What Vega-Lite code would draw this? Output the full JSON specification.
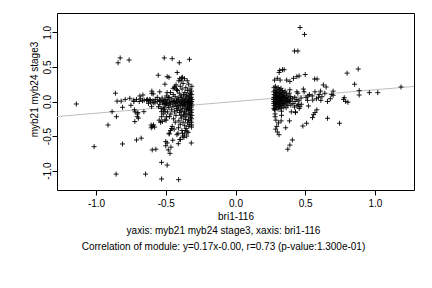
{
"$schema": "https://vega.github.io/schema/vega-lite/v6.json",
"width": 357, "height": 177,
"autosize": "none",
"padding": {"left": 57, "top": 13, "right": 18, "bottom": 98},
"background": "white",
"config": {"view": {"stroke": "black", "strokeWidth": 1}, "font": "Liberation Sans"},
"title": {"text": "yaxis: myb21 myb24 stage3, xaxis: bri1-116", "subtitle": "Correlation of module: y=0.17x-0.00, r=0.73 (p-value:1.300e-01)", "orient": "bottom", "anchor": "middle", "dx": -12, "offset": 5, "fontSize": 10, "fontWeight": "normal", "color": "black", "font": "Liberation Sans", "subtitleFont": "Liberation Sans", "subtitleFontSize": 10, "subtitleColor": "black", "subtitlePadding": 6},
"datasets": {
"fit": [{"x": -1.28, "y": -0.2176, "x2": 1.28, "y2": 0.2176}],
"pts": [
{"x":-1.141,"y":-0.036},{"x":-1.014,"y":-0.653},{"x":-0.914,"y":-0.34},{"x":-0.885,"y":-0.147},{"x":-0.861,"y":0.12},{"x":-0.854,"y":-0.22},{"x":-0.856,"y":-1.05},{"x":-0.842,"y":0.56},{"x":-0.827,"y":0.63},{"x":-0.849,"y":0.005},{"x":-0.82,"y":0.005},{"x":-0.81,"y":-0.084},{"x":-0.81,"y":-0.614},{"x":-0.791,"y":0.03},{"x":-0.763,"y":0.6},{"x":-0.758,"y":0.046},{"x":-0.75,"y":-0.055},{"x":-0.729,"y":0.0},{"x":-0.722,"y":-0.29},{"x":-0.71,"y":-0.556},{"x":-0.703,"y":-0.18},{"x":-0.696,"y":-0.24},{"x":-0.686,"y":0.08},{"x":-0.676,"y":-0.53},{"x":-0.667,"y":0.01},{"x":-0.664,"y":0.094},{"x":-0.657,"y":-0.147},{"x":-0.645,"y":-1.05},{"x":-0.638,"y":0.02},{"x":-0.626,"y":0.01},{"x":-0.614,"y":0.03},{"x":-0.624,"y":-0.027},{"x":-0.602,"y":-0.075},{"x":-0.6,"y":0.118},{"x":-0.59,"y":-0.02},{"x":-0.605,"y":-0.34},{"x":-0.597,"y":-0.36},{"x":-0.588,"y":-0.34},{"x":-0.604,"y":-0.38},{"x":-0.58,"y":-0.37},{"x":-0.597,"y":-0.7},{"x":-0.571,"y":-0.69},{"x":-0.561,"y":0.06},{"x":-0.561,"y":0.0},{"x":-0.552,"y":-0.075},{"x":-0.543,"y":0.02},{"x":-0.554,"y":0.38},{"x":-0.543,"y":0.14},{"x":-0.53,"y":-0.88},{"x":-0.53,"y":-0.147},{"x":-0.518,"y":-0.12},{"x":-0.506,"y":-0.036},{"x":-0.506,"y":0.25},{"x":-0.49,"y":0.36},{"x":-0.511,"y":0.63},{"x":-0.49,"y":0.128},{"x":-0.482,"y":0.06},{"x":-0.525,"y":-0.29},{"x":-0.506,"y":-0.267},{"x":-0.494,"y":-0.22},{"x":-0.53,"y":-1.12},{"x":-0.477,"y":0.35},{"x":-0.47,"y":-0.75},{"x":-0.482,"y":-0.7},{"x":-0.49,"y":-0.6},{"x":-0.5,"y":-0.64},{"x":-0.49,"y":-0.92},{"x":-0.475,"y":-0.47},{"x":-0.466,"y":-0.42},{"x":-0.459,"y":-0.39},{"x":-0.454,"y":0.62},{"x":-0.447,"y":0.19},{"x":-0.435,"y":0.22},{"x":-0.423,"y":0.17},{"x":-0.408,"y":-1.13},{"x":-0.403,"y":0.56},{"x":-0.418,"y":0.42},{"x":-0.4,"y":0.33},{"x":-0.39,"y":0.3},{"x":-0.38,"y":0.35},{"x":-0.33,"y":0.61},{"x":-0.317,"y":-0.6},{"x":-0.42,"y":-0.48},{"x":-0.41,"y":-0.61},{"x":-0.395,"y":-0.55},{"x":-0.38,"y":-0.46},{"x":-0.37,"y":-0.52},{"x":-0.36,"y":-0.42},{"x":-0.35,"y":-0.5},{"x":-0.34,"y":-0.45},{"x":-0.6,"y":0.15},{"x":-0.59,"y":0.11},{"x":-0.73,"y":0.02},{"x":-0.71,"y":0.03},{"x":-0.69,"y":0.0},{"x":-0.68,"y":0.04},{"x":-0.655,"y":0.02},{"x":-0.72,"y":-0.15},{"x":-0.7,"y":-0.16},{"x":-0.705,"y":-0.22},{"x":-0.725,"y":-0.12},{"x":-0.505,"y":0.02},{"x":-0.494,"y":-0.03},{"x":-0.505,"y":-0.15},{"x":-0.53,"y":-0.22},{"x":-0.547,"y":-0.27},{"x":-0.538,"y":-0.3},{"x":-0.476,"y":-0.46},{"x":-0.5,"y":-0.58},{"x":-0.463,"y":-0.66},{"x":-0.45,"y":-0.56},{"x":-0.44,"y":-0.4},
{"x":-0.313,"y":0.22},{"x":-0.316,"y":0.15},{"x":-0.314,"y":0.1},{"x":-0.317,"y":0.06},{"x":-0.312,"y":0.03},{"x":-0.315,"y":0.0},{"x":-0.318,"y":-0.02},{"x":-0.313,"y":-0.05},{"x":-0.316,"y":-0.08},{"x":-0.314,"y":-0.12},{"x":-0.317,"y":-0.16},{"x":-0.313,"y":-0.2},{"x":-0.315,"y":-0.25},{"x":-0.316,"y":-0.3},{"x":-0.314,"y":-0.34},{"x":-0.315,"y":-0.37},
{"x":-0.326,"y":0.18},{"x":-0.323,"y":0.12},{"x":-0.328,"y":0.08},{"x":-0.324,"y":0.04},{"x":-0.327,"y":0.01},{"x":-0.322,"y":-0.03},{"x":-0.326,"y":-0.06},{"x":-0.329,"y":-0.1},{"x":-0.324,"y":-0.14},{"x":-0.327,"y":-0.19},{"x":-0.323,"y":-0.23},{"x":-0.326,"y":-0.28},{"x":-0.328,"y":-0.33},
{"x":-0.336,"y":0.25},{"x":-0.333,"y":0.11},{"x":-0.338,"y":0.05},{"x":-0.334,"y":0.02},{"x":-0.337,"y":-0.01},{"x":-0.332,"y":-0.04},{"x":-0.336,"y":-0.09},{"x":-0.339,"y":-0.13},{"x":-0.334,"y":-0.18},{"x":-0.337,"y":-0.27},{"x":-0.335,"y":-0.36},
{"x":-0.346,"y":0.3},{"x":-0.343,"y":0.16},{"x":-0.348,"y":0.07},{"x":-0.344,"y":0.0},{"x":-0.347,"y":-0.02},{"x":-0.342,"y":-0.07},{"x":-0.346,"y":-0.11},{"x":-0.349,"y":-0.21},{"x":-0.344,"y":-0.31},{"x":-0.347,"y":-0.43},
{"x":-0.356,"y":0.2},{"x":-0.353,"y":0.09},{"x":-0.358,"y":0.03},{"x":-0.354,"y":-0.01},{"x":-0.357,"y":-0.05},{"x":-0.352,"y":-0.12},{"x":-0.356,"y":-0.17},{"x":-0.359,"y":-0.26},{"x":-0.354,"y":-0.39},
{"x":-0.366,"y":0.33},{"x":-0.363,"y":0.13},{"x":-0.368,"y":0.04},{"x":-0.364,"y":0.0},{"x":-0.367,"y":-0.04},{"x":-0.362,"y":-0.08},{"x":-0.366,"y":-0.15},{"x":-0.369,"y":-0.22},{"x":-0.364,"y":-0.35},{"x":-0.367,"y":-0.47},
{"x":-0.376,"y":0.26},{"x":-0.373,"y":0.1},{"x":-0.378,"y":0.02},{"x":-0.374,"y":-0.03},{"x":-0.377,"y":-0.1},{"x":-0.372,"y":-0.19},{"x":-0.376,"y":-0.3},{"x":-0.379,"y":-0.5},
{"x":-0.386,"y":0.34},{"x":-0.383,"y":0.18},{"x":-0.388,"y":0.06},{"x":-0.384,"y":0.01},{"x":-0.387,"y":-0.02},{"x":-0.382,"y":-0.06},{"x":-0.386,"y":-0.14},{"x":-0.389,"y":-0.24},{"x":-0.384,"y":-0.42},
{"x":-0.396,"y":0.22},{"x":-0.393,"y":0.08},{"x":-0.398,"y":0.0},{"x":-0.394,"y":-0.05},{"x":-0.397,"y":-0.12},{"x":-0.392,"y":-0.2},{"x":-0.396,"y":-0.33},{"x":-0.399,"y":-0.55},
{"x":-0.406,"y":0.3},{"x":-0.403,"y":0.12},{"x":-0.408,"y":0.03},{"x":-0.404,"y":-0.02},{"x":-0.407,"y":-0.08},{"x":-0.402,"y":-0.16},{"x":-0.406,"y":-0.28},{"x":-0.409,"y":-0.38},
{"x":-0.416,"y":0.16},{"x":-0.413,"y":0.05},{"x":-0.418,"y":-0.01},{"x":-0.414,"y":-0.06},{"x":-0.417,"y":-0.13},{"x":-0.412,"y":-0.46},
{"x":-0.426,"y":0.24},{"x":-0.423,"y":0.02},{"x":-0.428,"y":-0.03},{"x":-0.424,"y":-0.1},{"x":-0.427,"y":-0.2},
{"x":-0.436,"y":0.2},{"x":-0.433,"y":0.07},{"x":-0.438,"y":0.0},{"x":-0.434,"y":-0.05},{"x":-0.437,"y":-0.15},{"x":-0.432,"y":-0.3},
{"x":-0.446,"y":0.1},{"x":-0.443,"y":0.01},{"x":-0.448,"y":-0.07},{"x":-0.444,"y":-0.25},
{"x":-0.456,"y":0.04},{"x":-0.453,"y":-0.02},{"x":-0.458,"y":-0.12},{"x":-0.454,"y":-0.36},
{"x":-0.466,"y":0.13},{"x":-0.463,"y":0.0},{"x":-0.468,"y":-0.04},{"x":-0.464,"y":-0.18},
{"x":-0.476,"y":0.06},{"x":-0.473,"y":-0.01},{"x":-0.478,"y":-0.09},{"x":-0.474,"y":-0.22},
{"x":-0.486,"y":0.02},{"x":-0.483,"y":-0.06},{"x":-0.488,"y":-0.15},
{"x":-0.496,"y":0.08},{"x":-0.493,"y":-0.02},{"x":-0.498,"y":-0.27},
{"x":-0.506,"y":0.03},{"x":-0.503,"y":-0.04},{"x":-0.508,"y":-0.11},
{"x":-0.516,"y":0.0},{"x":-0.513,"y":-0.08},{"x":-0.518,"y":-0.18},
{"x":-0.526,"y":0.05},{"x":-0.523,"y":-0.02},{"x":-0.536,"y":0.01},{"x":-0.533,"y":-0.1},{"x":-0.546,"y":0.02},{"x":-0.543,"y":-0.04},
{"x":-0.578,"y":-0.02},{"x":-0.575,"y":0.03},{"x":-0.592,"y":0.01},{"x":-0.612,"y":0.02},{"x":-0.608,"y":-0.01},{"x":-0.632,"y":0.03},
{"x":0.276,"y":0.2},{"x":0.274,"y":0.14},{"x":0.277,"y":0.1},{"x":0.275,"y":0.06},{"x":0.273,"y":0.03},{"x":0.276,"y":0.0},{"x":0.274,"y":-0.03},{"x":0.277,"y":-0.06},{"x":0.275,"y":-0.1},
{"x":0.286,"y":0.22},{"x":0.284,"y":0.16},{"x":0.287,"y":0.12},{"x":0.285,"y":0.08},{"x":0.283,"y":0.05},{"x":0.286,"y":0.02},{"x":0.284,"y":-0.01},{"x":0.287,"y":-0.04},{"x":0.285,"y":-0.08},{"x":0.283,"y":-0.12},
{"x":0.296,"y":0.18},{"x":0.294,"y":0.13},{"x":0.297,"y":0.09},{"x":0.295,"y":0.06},{"x":0.293,"y":0.03},{"x":0.296,"y":0.0},{"x":0.294,"y":-0.02},{"x":0.297,"y":-0.05},{"x":0.295,"y":-0.09},
{"x":0.306,"y":0.2},{"x":0.304,"y":0.15},{"x":0.307,"y":0.11},{"x":0.305,"y":0.07},{"x":0.303,"y":0.04},{"x":0.306,"y":0.01},{"x":0.304,"y":-0.03},{"x":0.307,"y":-0.07},{"x":0.305,"y":-0.11},
{"x":0.316,"y":0.17},{"x":0.314,"y":0.12},{"x":0.317,"y":0.08},{"x":0.315,"y":0.05},{"x":0.313,"y":0.02},{"x":0.316,"y":-0.01},{"x":0.314,"y":-0.04},{"x":0.317,"y":-0.08},
{"x":0.326,"y":0.19},{"x":0.324,"y":0.14},{"x":0.327,"y":0.1},{"x":0.325,"y":0.06},{"x":0.323,"y":0.03},{"x":0.326,"y":0.0},{"x":0.324,"y":-0.05},{"x":0.327,"y":-0.1},
{"x":0.336,"y":0.16},{"x":0.334,"y":0.11},{"x":0.337,"y":0.07},{"x":0.335,"y":0.04},{"x":0.333,"y":0.01},{"x":0.336,"y":-0.02},{"x":0.334,"y":-0.06},
{"x":0.346,"y":0.13},{"x":0.344,"y":0.08},{"x":0.347,"y":0.05},{"x":0.345,"y":0.02},{"x":0.343,"y":-0.03},{"x":0.346,"y":-0.08},
{"x":0.356,"y":0.15},{"x":0.354,"y":0.09},{"x":0.357,"y":0.04},{"x":0.355,"y":0.0},{"x":0.353,"y":-0.04},
{"x":0.366,"y":0.11},{"x":0.364,"y":0.06},{"x":0.367,"y":0.02},{"x":0.365,"y":-0.02},{"x":0.363,"y":-0.09},
{"x":0.376,"y":0.08},{"x":0.374,"y":0.03},{"x":0.377,"y":-0.01},{"x":0.375,"y":-0.06},
{"x":0.386,"y":0.12},{"x":0.384,"y":0.05},{"x":0.387,"y":0.0},{"x":0.396,"y":0.07},{"x":0.394,"y":0.02},{"x":0.397,"y":-0.05},
{"x":0.41,"y":0.04},{"x":0.412,"y":-0.03},{"x":0.425,"y":0.06},{"x":0.427,"y":0.0},{"x":0.423,"y":-0.08},{"x":0.44,"y":0.03},{"x":0.442,"y":-0.06},{"x":0.455,"y":0.01},{"x":0.457,"y":-0.1},{"x":0.47,"y":0.05},{"x":0.472,"y":-0.04},
{"x":0.463,"y":1.07},{"x":0.495,"y":0.97},{"x":0.423,"y":0.73},{"x":0.447,"y":0.73},{"x":0.317,"y":0.45},{"x":0.337,"y":0.46},{"x":0.349,"y":0.46},{"x":0.313,"y":0.42},{"x":0.28,"y":0.31},{"x":0.3,"y":0.335},{"x":0.32,"y":0.31},{"x":0.367,"y":0.31},{"x":0.39,"y":0.29},{"x":0.416,"y":0.335},{"x":0.44,"y":0.36},{"x":0.456,"y":0.37},{"x":0.5,"y":0.39},{"x":0.567,"y":0.325},{"x":0.585,"y":0.325},{"x":0.63,"y":0.24},{"x":0.65,"y":0.21},{"x":0.7,"y":0.15},{"x":0.7,"y":0.09},{"x":0.8,"y":0.41},{"x":0.88,"y":0.47},{"x":0.854,"y":0.25},{"x":0.887,"y":0.157},{"x":0.887,"y":0.094},{"x":0.96,"y":0.128},{"x":1.02,"y":0.128},{"x":1.187,"y":0.21},{"x":0.775,"y":0.03},{"x":0.79,"y":0.0},{"x":0.806,"y":-0.01},{"x":0.78,"y":0.055},{"x":0.66,"y":0.0},{"x":0.612,"y":0.017},{"x":0.595,"y":0.06},{"x":0.554,"y":0.02},{"x":0.516,"y":0.017},{"x":0.506,"y":0.06},{"x":0.492,"y":0.14},{"x":0.487,"y":0.18},{"x":0.523,"y":-0.065},{"x":0.583,"y":-0.12},{"x":0.57,"y":-0.16},{"x":0.56,"y":-0.19},{"x":0.552,"y":-0.233},{"x":0.51,"y":-0.315},{"x":0.483,"y":-0.355},{"x":0.66,"y":-0.243},{"x":0.746,"y":-0.315},{"x":0.43,"y":-0.15},{"x":0.45,"y":-0.04},{"x":0.463,"y":-0.075},{"x":0.44,"y":0.14},{"x":0.447,"y":0.12},{"x":0.387,"y":-0.28},{"x":0.36,"y":-0.38},{"x":0.408,"y":-0.556},{"x":0.39,"y":-0.63},{"x":0.375,"y":-0.69},{"x":0.308,"y":-0.31},{"x":0.296,"y":-0.36},{"x":0.288,"y":-0.4},{"x":0.3,"y":-0.44},{"x":0.312,"y":-0.48},{"x":0.284,"y":-0.22},{"x":0.279,"y":-0.12},{"x":0.284,"y":-0.18},{"x":0.29,"y":-0.27},{"x":0.33,"y":-0.14},{"x":0.33,"y":-0.2},{"x":0.327,"y":-0.28},{"x":0.4,"y":-0.15},{"x":0.43,"y":-0.16},{"x":0.39,"y":0.17},{"x":0.53,"y":0.1},{"x":0.55,"y":0.08},{"x":0.58,"y":0.04},{"x":0.62,"y":0.07},{"x":0.64,"y":0.12},{"x":0.6,"y":0.1},{"x":0.68,"y":0.04},{"x":0.69,"y":0.1},{"x":0.52,"y":0.08},{"x":0.57,"y":0.14},{"x":0.61,"y":0.15}
]
},
"encoding": {
  "x": {"field": "x", "type": "quantitative", "scale": {"domain": [-1.28, 1.28], "nice": false, "zero": false},
    "axis": {"values": [-1, -0.5, 0, 0.5, 1], "labelExpr": "replace(format(datum.value, '.1f'), '\u2212', '-')", "domain": false, "grid": false, "ticks": true, "tickSize": 5, "tickColor": "black", "labelColor": "black", "labelFontSize": 10, "labelFont": "Liberation Sans", "labelPadding": 3, "labelFlush": false, "title": "bri1-116", "titleFont": "Liberation Sans", "titleFontSize": 10, "titleFontWeight": "normal", "titleColor": "black", "titlePadding": 3}},
  "y": {"field": "y", "type": "quantitative", "scale": {"domain": [-1.28, 1.28], "nice": false, "zero": false},
    "axis": {"values": [-1, -0.5, 0, 0.5, 1], "labelExpr": "replace(format(datum.value, '.1f'), '\u2212', '-')", "domain": false, "grid": false, "ticks": true, "tickSize": 5, "tickColor": "black", "labelColor": "black", "labelFontSize": 10, "labelFont": "Liberation Sans", "labelAngle": -90, "labelAlign": "center", "labelBaseline": "alphabetic", "labelPadding": 2, "labelFlush": false, "title": "myb21 myb24 stage3", "titleFont": "Liberation Sans", "titleFontSize": 10, "titleFontWeight": "normal", "titleColor": "black", "titlePadding": 3, "titleAlign": "center", "titleAngle": -90, "titleY": 76}}
},
"layer": [
  {"data": {"name": "fit"}, "mark": {"type": "rule", "color": "#bdbdbd", "strokeWidth": 1, "clip": true}, "encoding": {"x2": {"field": "x2"}, "y2": {"field": "y2"}}},
  {"data": {"name": "pts"}, "mark": {"type": "point", "shape": "M-1,0H1M0,-1V1", "filled": false, "stroke": "black", "strokeWidth": 0.9, "size": 25, "opacity": 1}}
]
}
